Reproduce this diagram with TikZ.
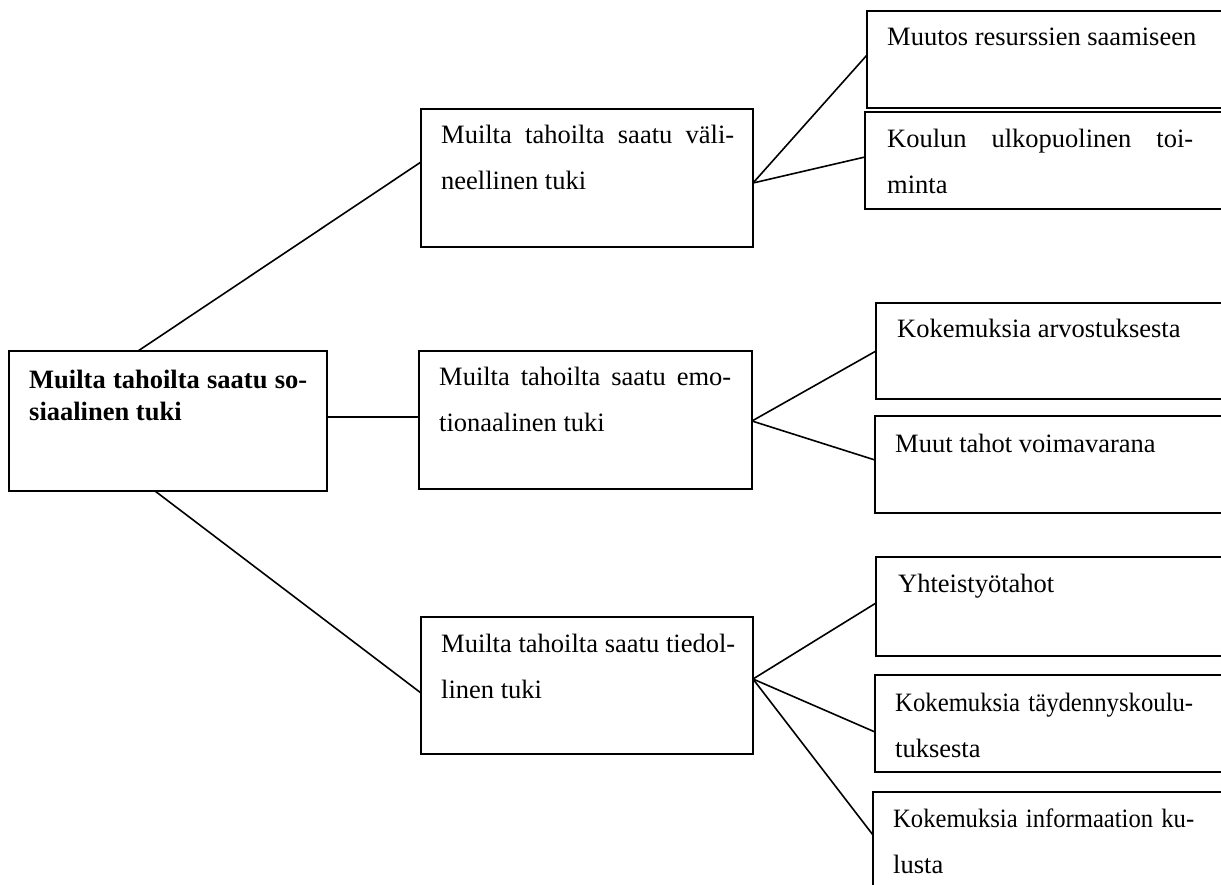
\documentclass[tikz,border=0pt]{standalone}
\usepackage{fontspec}
\usepackage{graphicx}
\setmainfont{Liberation Serif}
\usetikzlibrary{calc}
\tikzset{
  box/.style={draw, line width=1.6pt, rectangle, inner sep=0pt, outer sep=0pt, anchor=north west},
  txt/.style={anchor=base west, inner sep=0pt, align=justify, font=\fontsize{26.5}{46}\selectfont},
  ltxt/.style={anchor=base west, inner sep=0pt, align=left, font=\fontsize{26.5}{46}\selectfont},
  boldtxt/.style={anchor=base west, inner sep=0pt, align=justify, font=\bfseries\fontsize{26.5}{32}\selectfont},
  con/.style={line width=1.6pt},
}
\begin{document}
\begin{tikzpicture}[x=1pt,y=-1pt]
\useasboundingbox (0,0) rectangle (1221,884);
\clip (0,0) rectangle (1221,884);
\hyphenpenalty=10000
\hbadness=10000
\hfuzz=5pt
% boxes
\node[box, minimum width=318pt, minimum height=140pt] (root) at (9,351) {};
\node[box, minimum width=332pt, minimum height=138pt] (mid1) at (421,109) {};
\node[box, minimum width=333pt, minimum height=138pt] (mid2) at (419,351) {};
\node[box, minimum width=332pt, minimum height=137pt] (mid3) at (421,617) {};
\node[box, minimum width=400pt, minimum height=97pt] (r1) at (867,11) {};
\node[box, minimum width=400pt, minimum height=97pt] (r2) at (865,112) {};
\node[box, minimum width=400pt, minimum height=96pt] (r3) at (876,303) {};
\node[box, minimum width=400pt, minimum height=97pt] (r4) at (875,416) {};
\node[box, minimum width=400pt, minimum height=99pt] (r5) at (876,557) {};
\node[box, minimum width=400pt, minimum height=97pt] (r6) at (875,675) {};
\node[box, minimum width=400pt, minimum height=120pt] (r7) at (873,792) {};
% texts
\node[boldtxt, text width=278pt] (roott) at ($(root.north west)+(20,37)$) {Muilta tahoilta saatu so-\linebreak siaalinen tuki};
\node[txt, text width=293pt] (mid1t) at ($(mid1.north west)+(20,34)$) {Muilta tahoilta saatu väli-\linebreak neellinen tuki};
\node[txt, text width=292pt] (mid2t) at ($(mid2.north west)+(20,34)$) {Muilta tahoilta saatu emo-\linebreak tionaalinen tuki};
\node[txt, text width=294pt] (mid3t) at ($(mid3.north west)+(20,35)$) {Muilta tahoilta saatu tiedol-\linebreak linen tuki};
\node[txt] (r1t) at ($(r1.north west)+(20,34)$) {Muutos resurssien saamiseen};
\node[txt, text width=306pt] (r2t) at ($(r2.north west)+(22,35)$) {Koulun ulkopuolinen toi-\linebreak minta};
\node[txt] (r3t) at ($(r3.north west)+(21,34)$) {Kokemuksia arvostuksesta};
\node[txt] (r4t) at ($(r4.north west)+(20,36)$) {Muut tahot voimavarana};
\node[txt] (r5t) at ($(r5.north west)+(22,35)$) {Yhteistyötahot};
\node[ltxt, text width=320pt] (r6t) at ($(r6.north west)+(20,36)$) {\resizebox{298pt}{\height}{Kokemuksia täydennyskoulu-}\\ tuksesta};
\node[ltxt, text width=320pt] (r7t) at ($(r7.north west)+(20,35)$) {\resizebox{301pt}{\height}{Kokemuksia informaation ku-}\\ lusta};
% connectors
\draw[con] ($(root.north west)+(129,0)$) -- ($(mid1.north west)+(0,53)$);
\draw[con] ($(root.north east)+(0,66)$) -- ($(mid2.north west)+(0,66)$);
\draw[con] ($(root.south west)+(146,0)$) -- ($(mid3.north west)+(0,76)$);
\draw[con] ($(mid1.north east)+(0,74)$) -- ($(r1.north west)+(0,44)$);
\draw[con] ($(mid1.north east)+(0,74)$) -- ($(r2.north west)+(0,45)$);
\draw[con] ($(mid2.north east)+(0,70)$) -- ($(r3.north west)+(0,48)$);
\draw[con] ($(mid2.north east)+(0,70)$) -- ($(r4.north west)+(0,44)$);
\draw[con] ($(mid3.north east)+(0,62)$) -- ($(r5.north west)+(0,46)$);
\draw[con] ($(mid3.north east)+(0,62)$) -- ($(r6.north west)+(0,57)$);
\draw[con] ($(mid3.north east)+(0,62)$) -- ($(r7.north west)+(0,43)$);
\end{tikzpicture}
\end{document}
